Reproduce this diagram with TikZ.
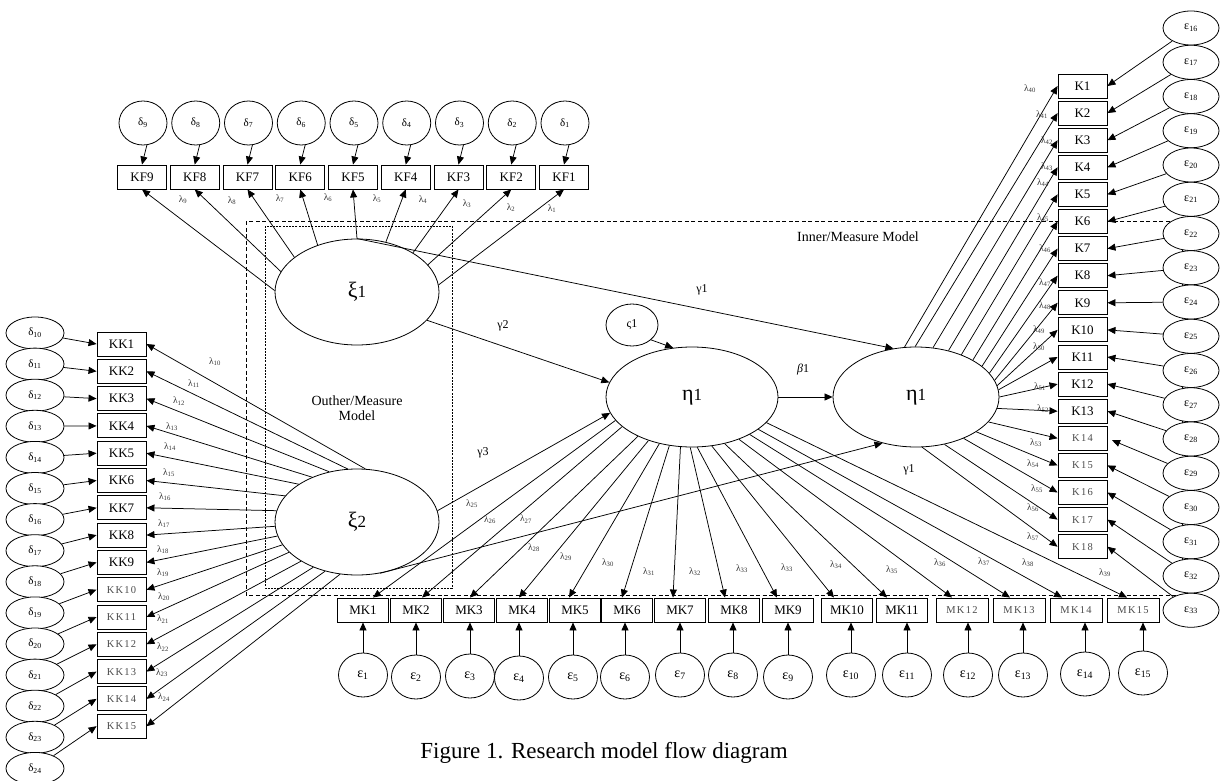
\documentclass[tikz,border=0pt]{standalone}
\usepackage{fontspec}
\setmainfont{Liberation Serif}
\newfontfamily\myspaced[LetterSpace=12]{Liberation Serif}
\usetikzlibrary{arrows.meta,shapes.geometric,calc}
\newcommand\mybox{\fontsize{13}{13}\selectfont}
\newcommand\mylbox{\fontsize{10.5}{10.5}\selectfont\myspaced}
\newcommand\mylam{\fontsize{9.5}{9.5}\selectfont}
\newcommand\mydel{\fontsize{11}{11}\selectfont}
\newcommand\myeps{\fontsize{14}{14}\selectfont}
\newcommand\myepsr{\fontsize{12}{12}\selectfont}
\begin{document}
\begin{tikzpicture}[x=1pt,y=-1pt,
  arr/.style={line width=0.75pt,-{Triangle[length=8pt,width=7pt]}},
  obox/.style={draw,line width=0.9pt,fill=white,minimum width=49pt,minimum height=24pt,inner sep=0pt,font=\mybox},
  lbox/.style={obox,font=\mylbox,text=black!70},
  ell/.style={draw,ellipse,line width=0.8pt,fill=white,inner sep=0pt},
  lam/.style={inner sep=0pt,font=\mylam,text=black!80},
  glab/.style={inner sep=0pt,font=\fontsize{12}{12}\selectfont}]
\useasboundingbox (0,0) rectangle (1225,781);
% dashed frames
\draw[dash pattern=on 4pt off 2.5pt,line width=0.8pt] (246,221) rectangle (1182,595);
\draw[dash pattern=on 2pt off 1.2pt,line width=0.8pt] (265,226) rectangle (452,588);
\node[inner sep=0pt,font=\fontsize{14}{14}\selectfont] (inner) at (858,237) {Inner/Measure Model};
\node[inner sep=0pt,align=center,font=\fontsize{14}{15}\selectfont] (outer) at (357,408) {Outher/Measure\\Model};
% latent variables
\node[ell,minimum width=164pt,minimum height=106pt] (xi1) at (357,292) {{\fontsize{22}{22}\selectfont ξ}{\fontsize{17}{17}\selectfont 1}};
\node[ell,minimum width=164pt,minimum height=106pt] (xi2) at (357,522) {{\fontsize{22}{22}\selectfont ξ}{\fontsize{17}{17}\selectfont 2}};
\node[ell,minimum width=172pt,minimum height=100pt] (eta1) at (692,397) {{\fontsize{22}{22}\selectfont η}{\fontsize{17}{17}\selectfont 1}};
\node[ell,minimum width=166pt,minimum height=100pt] (eta2) at (916,397) {{\fontsize{22}{22}\selectfont η}{\fontsize{17}{17}\selectfont 1}};
\node[ell,minimum width=52pt,minimum height=42pt,font=\fontsize{12}{12}\selectfont] (zeta) at (632,325) {ς1};
% KF indicators
\foreach \i in {1,...,9}{
  \pgfmathsetmacro\xx{564-(\i-1)*52.75}
  \node[obox] (kf\i) at (\xx,177) {KF\i};
  \node[ell,minimum width=48pt,minimum height=44pt,font=\mydel] (d\i) at (\xx+1,123) {δ\textsubscript{\i}};
  \draw[arr] (d\i.-80) -- (kf\i.north);
}
% KK indicators
\foreach \i in {1,...,15}{
  \pgfmathsetmacro\yy{344+(\i-1)*27.3}
  \pgfmathsetmacro\dy{333+(\i-1)*31.1}
  \pgfmathtruncatemacro\j{\i+9}
  \ifnum\i<10 \node[obox] (kk\i) at (121.5,\yy) {KK\i};\else \node[lbox] (kk\i) at (121.5,\yy) {KK\i};\fi
  \node[ell,minimum width=58pt,minimum height=32pt,font=\mydel] (dd\i) at (35,\dy) {δ\textsubscript{\j}};
  \draw[arr] (dd\i) -- (kk\i.west);
}
% MK indicators
\foreach \i/\x/\ex/\ey in {1/363/363/675,2/416/416/677,3/469/470/676,4/522/519/678,5/575/573/677,6/627/625/677,7/680/680/675,8/734/733/675,9/788/788/677,10/847/851/675,11/902/907/675,12/962/968/675,13/1019/1023/675,14/1076/1085/674,15/1133/1143/673}{
  \ifnum\i<12 \node[obox,minimum width=51pt] (mk\i) at (\x,610) {MK\i};\else \node[lbox,minimum width=52pt] (mk\i) at (\x,610) {MK\i};\fi
  \node[ell,minimum width=49pt,minimum height=44pt,font=\myeps] (e\i) at (\ex,\ey) {ε\textsubscript{\i}};
  \draw[arr] (e\i.north) -- (e\i.north |- mk\i.south);
}
% K indicators
\foreach \i in {1,...,18}{
  \pgfmathsetmacro\yy{86+(\i-1)*27.1}
  \pgfmathsetmacro\ry{28+(\i-1)*34.25}
  \pgfmathtruncatemacro\j{\i+15}
  \ifnum\i<14 \node[obox] (k\i) at (1082.5,\yy) {K\i};\else \node[lbox] (k\i) at (1082.5,\yy) {K\i};\fi
  \node[ell,minimum width=56pt,minimum height=34pt,font=\myepsr] (er\i) at (1191,\ry) {ε\textsubscript{\j}};
}
\foreach \i in {1,...,13,15,16,17,18}{ \draw[arr] (er\i) -- (k\i.east); }
\draw[arr,shorten >=5pt] (er14) -- (k14.east);
% loadings xi1 -> KF
\foreach \i/\a in {1/5,2/21.5,3/35,4/60,5/90,6/130,7/151,8/165,9/179}{
  \draw[arr] (xi1.\a) -- (kf\i.south);
}
% loadings xi2 -> KK
\foreach \i/\a in {1/81,2/100,3/119,4/135,5/147,6/160,7/172,8/183,9/190,10/197,11/204,12/215,13/226,14/237,15/252}{
  \draw[arr] (xi2.\a) -- (kk\i.east);
}
% loadings eta1 -> MK
\foreach \i/\a/\o in {1/197.6/10,2/203/6,3/216.7/1,4/225.6/-3,5/235.8/-6,6/245/-5,7/257/-7,8/268/-9,9/276/-11,10/292/-13,11/305/-15,12/318/-10,13/327/-9,14/334/-14,15/341/-6}{
  \draw[arr] (eta1.\a) -- ($(mk\i.north)+(\o,0)$);
}
% loadings eta2 -> K
\foreach \i/\a in {1/103,2/91,3/71,4/55,5/43,6/33,7/25,8/18,9/12.5,10/8,11/5,12/0,13/-8,14/-19,15/-30,16/-41,17/-59,18/-83}{
  \draw[arr] (eta2.\a) -- (k\i.west);
}
% structural paths
\draw[arr] (xi1.90) -- (eta2.115);
\draw[arr] (xi1.-22) -- (eta1.170.5);
\draw[arr] (xi2.8.4) -- (eta1.191);
\draw[arr] (xi2.-66) -- (eta2.234);
\draw[arr] (zeta.-38) -- (eta1.111);
\draw[arr] (eta1.east) -- (eta2.west);
\node[glab] (g1a) at (702,290) {γ1};
\node[glab] (g2) at (503,326) {γ2};
\node[glab] (g3) at (483,453) {γ3};
\node[glab] (g1b) at (909,470) {γ1};
\node[glab] (b1) at (803,370) {\textit{β}1};
% lambda labels
\foreach \i/\x/\y in {1/552/209,2/511/208,3/467/204,4/423/200,5/377/199,6/328/198,7/280/199,8/232/201,9/183/200,
  10/215/362,11/194/384,12/179/401,13/172/427,14/170/447,15/169/473,16/165/497,17/164/524,18/163/550,19/163/573,20/164/597,21/163/619,22/163/647,23/162/673,24/164/697,
  25/472/504,26/490/520,27/526/519,28/534/548,29/566/557,30/608/563,31/649/572,32/695/572,33/742/569,34/836/565,35/892/570,36/940/563,37/984/562,38/1028/563,39/1105/573,
  40/1030/89,41/1042/115,42/1047/141,43/1047/167,44/1043/183,45/1043/218,46/1045/249,47/1045/283,48/1045/306,49/1039/330,50/1039/347,51/1040/387,52/1043/409,53/1036/443,54/1033/464,55/1037/489,56/1033/508,57/1033/537}{
  \node[lam] (l\i) at (\x,\y) {λ\textsubscript{\i}};
}
\node[lam] (l33b) at (787,568) {λ\textsubscript{33}};
% caption
\node[inner sep=0pt,font=\fontsize{23}{23}\selectfont] (cap) at (604,753) {Figure 1. Research model flow diagram};
\end{tikzpicture}
\end{document}
